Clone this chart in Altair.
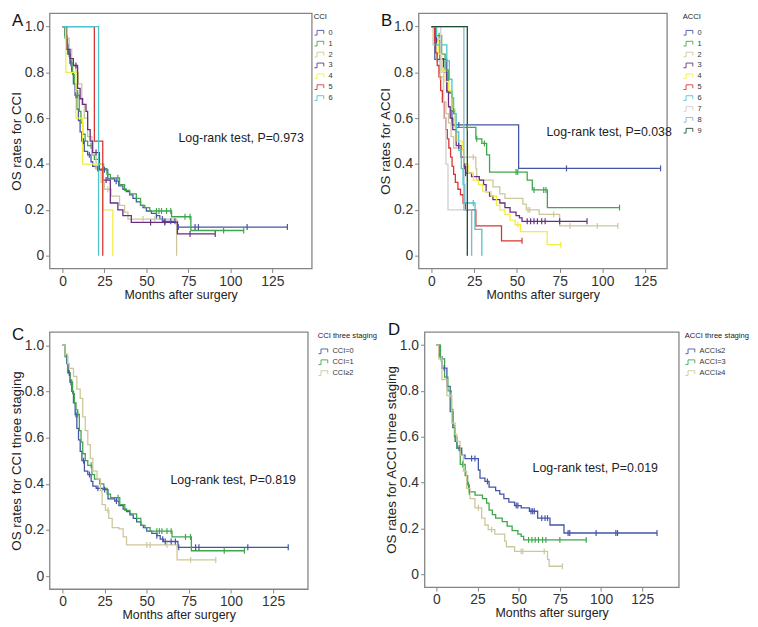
import altair as alt
import pandas as pd

FONT = "Liberation Sans"

# ---------------- data ----------------
# CCI = 0 (panels A and C)
cci0_t = [0, 1.5, 2.5, 3.5, 4.5, 5.5, 6.5, 7.5, 8.5, 9.5, 10.5, 11.5, 13, 15, 17, 18, 20, 24, 27, 31, 33.5, 36, 38, 40, 42, 44, 46.5, 48, 50, 53, 56, 58, 60, 68.5]
cci0_s = [1.0, 0.96, 0.92, 0.88, 0.84, 0.80, 0.75, 0.70, 0.64, 0.59, 0.54, 0.50, 0.455, 0.44, 0.41, 0.39, 0.38, 0.375, 0.335, 0.325, 0.305, 0.29, 0.28, 0.265, 0.25, 0.235, 0.22, 0.21, 0.195, 0.185, 0.175, 0.16, 0.15, 0.125]
cci0_end = 134
cci0_c = [4, 5, 8, 12.5, 16, 21, 25, 32, 56, 59.5, 61, 64.5, 67, 69, 79, 81, 110, 134]
# CCI = 1
cci1_t = [0, 1.5, 3, 4.5, 6, 7, 8, 9, 10, 11, 12, 13.5, 15, 17.5, 19, 22, 24.5, 26.5, 28.5, 34, 37, 40, 44, 46.5, 49, 52, 65, 76.5]
cci1_s = [1.0, 0.95, 0.88, 0.84, 0.79, 0.75, 0.72, 0.70, 0.63, 0.58, 0.53, 0.50, 0.48, 0.44, 0.42, 0.40, 0.38, 0.355, 0.34, 0.31, 0.285, 0.27, 0.25, 0.22, 0.21, 0.195, 0.17, 0.11]
cci1_end = 108
cci1_c = [5.5, 9, 17, 33, 56, 57.5, 59, 62, 64.5, 73, 76, 96, 108]
# CCI = 2
cci2_t = [0, 2, 4, 5.5, 8, 9.5, 11.5, 13, 15, 17.5, 20, 23, 25, 29, 34, 37, 39, 68]
cci2_s = [1.0, 0.95, 0.90, 0.83, 0.80, 0.75, 0.66, 0.60, 0.52, 0.44, 0.38, 0.32, 0.29, 0.26, 0.22, 0.19, 0.16, 0.0]
cci2_end = 68
cci2_c = [27, 48, 55]
# CCI = 3
cci3_t = [0, 2.5, 4.5, 6.5, 9, 10.5, 12, 14, 15, 16.5, 18, 22, 24, 28.5, 33, 36, 41, 68.5]
cci3_s = [1.0, 0.90, 0.86, 0.83, 0.73, 0.685, 0.66, 0.63, 0.55, 0.50, 0.45, 0.375, 0.33, 0.23, 0.20, 0.175, 0.145, 0.095]
cci3_end = 91
cci3_c = [8, 20, 26, 52.5, 61, 76, 91]
# CCI = 4, 5, 6
cci4_t = [0, 2, 8, 12, 24, 30]
cci4_s = [1.0, 0.8, 0.6, 0.4, 0.2, 0.0]
cci5_t = [0, 19, 24]
cci5_s = [1.0, 0.5, 0.0]
cci6_t = [0, 21.5]
cci6_s = [1.0, 0.0]
# CCI >= 2 (panel C)
cci2p_t = [0, 1.5, 3, 4, 6.5, 8.5, 10.5, 12, 13.5, 15, 16.5, 18, 20.5, 22.5, 23.5, 25.5, 27.5, 29.5, 33.5, 36, 38, 68]
cci2p_s = [1.0, 0.96, 0.92, 0.90, 0.865, 0.81, 0.77, 0.69, 0.63, 0.57, 0.51, 0.455, 0.42, 0.37, 0.31, 0.285, 0.25, 0.21, 0.205, 0.17, 0.135, 0.07]
cci2p_end = 91
cci2p_c = [27, 50, 52, 62, 76, 91]

# ACCI groups (panel B)
acci0_t = [0, 2, 9, 12, 51]
acci0_s = [1.0, 0.857, 0.714, 0.571, 0.381]
acci0_end = 134
acci0_c = [16, 79, 134]
acci1_t = [0, 2, 6, 8, 10, 12, 14, 26, 29.5, 32.3, 34, 56, 59, 67.8]
acci1_s = [1.0, 0.96, 0.88, 0.81, 0.71, 0.63, 0.56, 0.51, 0.49, 0.44, 0.365, 0.33, 0.287, 0.21]
acci1_end = 110
acci1_c = [4.5, 13, 21, 26.5, 31, 49.5, 50.5, 60, 65.7, 67, 110]
acci2_t = [0, 1, 3, 5, 7, 8.5, 10, 11.5, 13, 17, 26, 26.5, 36, 40, 43, 53.5, 55.5, 63, 75]
acci2_s = [1.0, 0.92, 0.85, 0.78, 0.67, 0.62, 0.58, 0.52, 0.47, 0.43, 0.38, 0.33, 0.30, 0.27, 0.25, 0.225, 0.20, 0.18, 0.13]
acci2_end = 109
acci2_c = [5, 24.5, 56.5, 57.5, 71.5, 81, 97, 109]
acci3_t = [0, 2.5, 5, 7, 9, 10, 11, 12.5, 14.5, 17.5, 19, 20, 23.5, 28, 30.5, 32, 34, 36, 40, 43, 46, 49.5, 51.5, 53]
acci3_s = [1.0, 0.94, 0.86, 0.80, 0.72, 0.65, 0.60, 0.55, 0.48, 0.43, 0.39, 0.36, 0.345, 0.33, 0.31, 0.28, 0.26, 0.245, 0.23, 0.21, 0.19, 0.175, 0.165, 0.15]
acci3_end = 91
acci3_c = [3, 16, 19.5, 20, 56, 58, 60, 62, 64.5, 66.5, 75, 91]
acci4_t = [0, 3, 4.3, 6, 8, 10, 12, 14, 15, 18, 19, 21.5, 24.5, 27.5, 30, 35, 38, 40, 43, 46, 49, 52, 67.7]
acci4_s = [1.0, 0.94, 0.88, 0.81, 0.76, 0.72, 0.64, 0.555, 0.50, 0.46, 0.40, 0.36, 0.33, 0.31, 0.28, 0.26, 0.22, 0.20, 0.18, 0.155, 0.135, 0.105, 0.048]
acci4_end = 75.6
acci4_c = [7, 50.5, 75.6]
acci5_t = [0, 1.9, 2.4, 3.4, 4.4, 5.4, 6.4, 7.4, 8.4, 9.3, 10.2, 11.2, 12.1, 13, 14, 15.5, 17, 18.5, 19.9, 26, 41]
acci5_s = [1.0, 0.94, 0.885, 0.83, 0.78, 0.72, 0.67, 0.60, 0.55, 0.51, 0.47, 0.43, 0.39, 0.355, 0.32, 0.29, 0.266, 0.23, 0.20, 0.13, 0.065]
acci5_end = 53
acci5_c = [53]
acci6_t = [0, 3, 9, 10.5, 12, 13, 14.5, 16, 17.5, 18.5, 19.5, 25.5, 29.5]
acci6_s = [1.0, 0.92, 0.85, 0.77, 0.69, 0.62, 0.54, 0.46, 0.38, 0.31, 0.23, 0.115, 0.0]
acci6_c = [24.5]
acci7_t = [0, 5.5, 7.2, 8.5, 9.7, 23.5]
acci7_s = [1.0, 0.8, 0.6, 0.4, 0.2, 0.0]
acci8_t = [0, 19, 23.5]
acci8_s = [1.0, 0.2, 0.0]
acci9_t = [0, 21]
acci9_s = [1.0, 0.0]

# ACCI three staging (panel D)
accile2_t = [0, 2, 3.4, 6.4, 8.4, 10, 11.4, 12.5, 15.4, 17.4, 25.5, 26.5, 29.5, 32, 36, 38.5, 41, 44, 47.5, 51.5, 56.5, 61.5, 69, 77.5]
accile2_s = [1.0, 0.95, 0.90, 0.82, 0.71, 0.64, 0.58, 0.55, 0.52, 0.505, 0.455, 0.42, 0.405, 0.38, 0.365, 0.35, 0.33, 0.315, 0.30, 0.29, 0.275, 0.245, 0.215, 0.18]
accile2_end = 134
accile2_c = [4.8, 13.8, 21.4, 23.4, 31, 48.5, 49.5, 57.5, 58.5, 59.5, 64, 66, 67.5, 80, 81, 97, 109, 110, 134]
accige4_t = [0, 1.4, 3.4, 6.4, 9.4, 11.4, 12.4, 14.4, 16.4, 18.4, 20.4, 23.4, 27.5, 29.5, 31.5, 35.5, 41.5, 42.5, 47.5, 67.5, 68.5]
accige4_s = [1.0, 0.94, 0.85, 0.78, 0.66, 0.61, 0.58, 0.52, 0.45, 0.375, 0.33, 0.29, 0.245, 0.215, 0.195, 0.175, 0.145, 0.12, 0.10, 0.065, 0.035]
accige4_end = 76.5
accige4_c = [3, 9, 25.5, 33.5, 51.5, 52.5, 65.5, 76.5]

p_values = ["0.973", "0.038", "0.819", "0.019"]
x_ticks = [0, 25, 50, 75, 100, 125]
y_ticks = [0, 0.2, 0.4, 0.6, 0.8, 1.0]

BLUE, GREEN, TAN, PURPLE = "#4556a8", "#3fa64b", "#cdc89c", "#6b2d83"
YELLOW, RED, CYAN, GRAY, LBLUE, DGREEN = "#f3ee3e", "#d93535", "#4fc4cb", "#cfcfcf", "#88b6d4", "#1f4d36"

STEP = "M-1,0.45L-0.5,0.45L-0.5,-0.45L0.8,-0.45L0.8,0.2"
VTICK = "M0,-1L0,1"


def surv_at(t, s, x):
    v = s[0]
    for a, b in zip(t, s):
        if a <= x:
            v = b
    return v


def group(name, t, s, end=None, cens=()):
    end = t[-1] if end is None else end
    rows = [{"g": name, "m": a, "s": b} for a, b in zip(t, s)]
    if end > t[-1]:
        rows.append({"g": name, "m": end, "s": s[-1]})
    crow = [{"g": name, "m": x, "s": surv_at(t, s, x)} for x in cens]
    return rows, crow


def panel(groups, names, colors, legend_title, legend_offset, xdom, w, h,
          ytitle, letter, letter_xy, ptext, ptext_xy):
    rows, crows = [], []
    for rr, cc in groups:
        rows += rr
        crows += cc
    df = pd.DataFrame(rows)
    cdf = pd.DataFrame(crows)
    xs = alt.Scale(domain=xdom, nice=False, zero=False)
    ys = alt.Scale(domain=[-0.056, 1.058], nice=False, zero=False)
    x = alt.X("m:Q", scale=xs, axis=alt.Axis(values=x_ticks, title="Months after surgery",
                                             titleFontSize=12.5, titlePadding=0))
    y = alt.Y("s:Q", scale=ys, axis=alt.Axis(values=y_ticks, title=ytitle, titleFontSize=13.5,
                                             labelExpr="datum.value == 0 ? '0' : format(datum.value, '.1f')",
                                             titlePadding=1))
    cscale = alt.Scale(domain=names, range=colors)
    color = alt.Color("g:N", scale=cscale,
                      legend=alt.Legend(title=legend_title, offset=legend_offset,
                                        symbolFillColor="transparent", symbolType=STEP))
    lines = alt.Chart(df).mark_line(interpolate="step-after", strokeWidth=1.3).encode(
        x=x, y=y, color=color, detail="g:N")
    ticks = alt.Chart(cdf).mark_point(shape=VTICK, filled=False, size=36, strokeWidth=1.2, opacity=1).encode(
        x=x, y=y, color=color)
    one = pd.DataFrame({"k": [0]})
    let = alt.Chart(one).mark_text(align="left", baseline="alphabetic", fontSize=17, color="#111").encode(
        x=alt.value(letter_xy[0]), y=alt.value(letter_xy[1]), text=alt.value(letter))
    pt = alt.Chart(one).mark_text(align="right", baseline="middle", fontSize=12.5, color="#222").encode(
        x=alt.value(ptext_xy[0]), y=alt.value(ptext_xy[1]), text=alt.value(ptext))
    return alt.layer(lines, ticks, let, pt).properties(width=w, height=h)


A = panel(
    [group("0", cci0_t, cci0_s, cci0_end, cci0_c), group("1", cci1_t, cci1_s, cci1_end, cci1_c),
     group("2", cci2_t, cci2_s, cci2_end, cci2_c), group("3", cci3_t, cci3_s, cci3_end, cci3_c),
     group("4", cci4_t, cci4_s), group("5", cci5_t, cci5_s), group("6", cci6_t, cci6_s)],
    ["0", "1", "2", "3", "4", "5", "6"], [BLUE, GREEN, TAN, PURPLE, YELLOW, RED, CYAN],
    "CCI", 2, [-7.7, 148.5], 265, 258, "OS rates for CCI", "A", (-38, 13),
    "Log-rank test, P=" + p_values[0], (257, 126))

B = panel(
    [group("0", acci0_t, acci0_s, acci0_end, acci0_c), group("1", acci1_t, acci1_s, acci1_end, acci1_c),
     group("2", acci2_t, acci2_s, acci2_end, acci2_c), group("3", acci3_t, acci3_s, acci3_end, acci3_c),
     group("4", acci4_t, acci4_s, acci4_end, acci4_c), group("5", acci5_t, acci5_s, acci5_end, acci5_c),
     group("6", acci6_t, acci6_s, None, acci6_c), group("7", acci7_t, acci7_s),
     group("8", acci8_t, acci8_s), group("9", acci9_t, acci9_s)],
    ["0", "1", "2", "3", "4", "5", "6", "7", "8", "9"],
    [BLUE, GREEN, TAN, PURPLE, YELLOW, RED, CYAN, GRAY, LBLUE, DGREEN],
    "ACCI", 16, [-7.5, 137.7], 251, 258, "OS rates for ACCI", "B", (-38, 13),
    "Log-rank test, P=" + p_values[1], (256, 120))

C = panel(
    [group("CCI=0", cci0_t, cci0_s, cci0_end, cci0_c), group("CCI=1", cci1_t, cci1_s, cci1_end, cci1_c),
     group("CCI≥2", cci2p_t, cci2p_s, cci2p_end, cci2p_c)],
    ["CCI=0", "CCI=1", "CCI≥2"], [BLUE, GREEN, TAN],
    "CCI three staging", 10, [-7.7, 145.6], 261, 260, "OS rates for CCI three staging", "C", (-38, 8),
    "Log-rank test, P=" + p_values[2], (249, 150))

D = panel(
    [group("ACCI≤2", accile2_t, accile2_s, accile2_end, accile2_c),
     group("ACCI=3", acci3_t, acci3_s, acci3_end, acci3_c),
     group("ACCI≥4", accige4_t, accige4_s, accige4_end, accige4_c)],
    ["ACCI≤2", "ACCI=3", "ACCI≥4"], [BLUE, GREEN, TAN],
    "ACCI three staging", 6, [-7.2, 147.2], 257, 258, "OS rates for ACCI three staging", "D", (-37, 3),
    "Log-rank test, P=" + p_values[3], (236, 138))

top = alt.hconcat(A, B, spacing=43).resolve_scale(color="independent")
bottom = alt.hconcat(C, D, spacing=5).resolve_scale(color="independent")
chart = alt.vconcat(top, bottom, spacing=18).resolve_scale(color="independent").configure(
    font=FONT, padding=0
).configure_view(stroke="#858585", strokeWidth=1.3).configure_axis(
    domain=False, grid=False, tickColor="#858585", tickSize=4, labelFontSize=14, labelColor="#333",
    titleFontWeight="normal", titleColor="#222", labelPadding=2, labelFont=FONT, titleFont=FONT
).configure_legend(
    titleFontSize=7.7, titleFontWeight="normal", titleColor="#222", labelFontSize=7.5, labelColor="#333",
    symbolSize=110, symbolStrokeWidth=0.9, symbolFillColor="transparent",
    rowPadding=-1.5, padding=0, titlePadding=6, labelOffset=3, orient="right"
)

chart.save("out.html", embed_options={"renderer": "svg", "actions": False})
